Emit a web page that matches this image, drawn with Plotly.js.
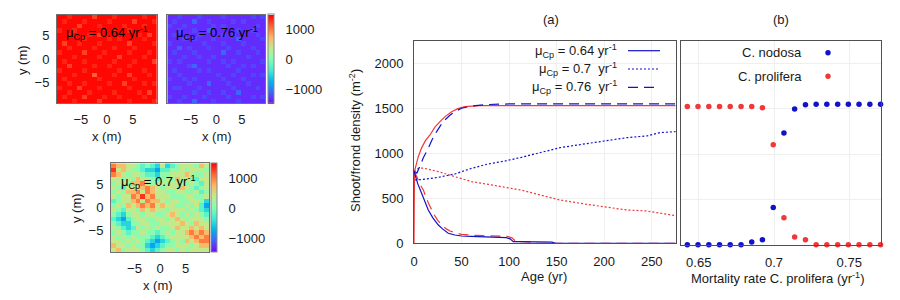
<!DOCTYPE html>
<html><head><meta charset="utf-8">
<script src="https://cdn.plot.ly/plotly-3.0.1.min.js"></script>
<style>html,body{margin:0;padding:0;background:#fff}</style>
</head><body><div id="chart" style="width:900px;height:300px"></div>
<script>
// ---------- Data: time series (panel a) ----------
const tRedSolid = [0, 0.5, 2, 4.5, 8, 12, 16.8, 22, 27.3, 33, 39.6, 46, 53.6, 60, 70, 80, 100, 150, 200, 275];
const vRedSolid = [0, 800, 860, 962, 1060, 1140, 1203, 1290, 1351, 1410, 1462, 1495, 1518, 1525, 1529, 1530, 1530, 1528, 1530, 1529];
const tBlueSolid = [0, 1, 4, 8, 12, 15, 20, 25.6, 30, 36, 43, 50, 60, 70, 80, 90, 97, 101, 104.5, 110, 120, 135, 145, 149, 160, 275];
const vBlueSolid = [800, 760, 660, 555, 450, 370, 280, 203, 160, 111, 92, 81, 76, 72, 68, 65, 62, 50, 18, 18, 17, 15, 12, 0, 0, 0];
const tRedDash = [0, 3, 6, 9.8, 15, 20.3, 25, 29, 34, 37.9, 44, 50, 60, 70, 80, 90, 98, 103, 107, 115, 124, 128, 275];
const vRedDash = [800, 740, 660, 592, 450, 333, 255, 203, 160, 137, 115, 100, 90, 85, 82, 80, 78, 60, 20, 18, 12, 0, 0];
const tBlueDash = [0, 3, 6, 9.8, 15, 19, 23.8, 28, 32.6, 38, 43, 50, 60.6, 75, 100, 150, 200, 275];
const vBlueDash = [800, 780, 850, 950, 1055, 1150, 1240, 1310, 1370, 1425, 1462, 1500, 1525, 1540, 1548, 1548, 1548, 1548];
const tBlueDot = [0, 2, 10, 25.6, 43, 60.6, 78, 95.7, 113, 132.5, 153.5, 181.6, 202.6, 223.6, 244.7, 258.7, 275];
const vBlueDot = [800, 703, 710, 733, 770, 833, 881, 914, 955, 1007, 1062, 1107, 1140, 1173, 1192, 1229, 1240];
const tRedDot = [0, 4.5, 10, 15, 25.6, 43, 60.6, 78, 95.7, 113, 132.5, 153.5, 181.6, 202.6, 223.6, 244.7, 258.7, 275];
const vRedDot = [800, 833, 835, 825, 796, 740, 685, 655, 618, 590, 537, 481, 433, 400, 370, 359, 333, 307];

// ---------- Data: panel b ----------
const mortality = [0.6424, 0.6495, 0.6567, 0.6638, 0.6709, 0.6781, 0.6852, 0.6923, 0.6995, 0.7066, 0.7137, 0.7209, 0.7280, 0.7351, 0.7423, 0.7494, 0.7565, 0.7637, 0.7708];
const nodosa = [0, 0, 0, 0, 0, 0, 30, 55, 411, 1233, 1496, 1544, 1548, 1548, 1548, 1548, 1548, 1548, 1548];
const prolifera = [1525, 1525, 1525, 1525, 1525, 1525, 1525, 1511, 1103, 296, 85, 55, 0, 0, 0, 0, 0, 0, 0];

// ---------- Data: heatmaps (rows top to bottom, digit = level index) ----------
const redLevels = [1460, 1360, 1250, 1120];
const redRows = [
"00100002000100000100","01000100001000020001","00002000100001000100","10010000000100100000",
"00100010200000001020","00000100001010000100","02001000100000200001","00100001000100010000",
"10000200010000100010","00010000100020000100","01000100000100010002","00200001001000100000",
"10000100000010000100","00010003000100200010","01000000100000010000","00100100001002000101",
"10002000100000100000","00100010000100001020","01000200010010000100","00010000200000100001"];
const blueLevels = [-1300, -1200, -1080, -950];
const blueRows = [
"00100010000100000101","01000200100001010000","10010000010100000010","00100100200000100100",
"01000010000101000010","00010100010000200001","10000001000100010000","00201000100010000100",
"01000100000200100010","00010010010000001000","10100000100101000001","00001200000010010100",
"01000010100000100000","00100000001001000101","10010100000100010000","00001000200010001000",
"01100010000001000010","00000100100100200000","10010001000010000101","00100200010000100000"];
const mixLevels = [-1400, -1100, -800, -500, -200, 100, 400, 700, 1000, 1300];
const mixRows = [
"87766545436345666576","96765543324455656665","87656654435566676556","66565766545657665466",
"56657786566566556546","65466678765665765456","56577868766556655645","65668797866655566556",
"45667868776566556653","56576787867665565642","65466576766566656543","54356656655676565654",
"43245665566567656665","54335566556666765766","65434656565567667676","56545565545656678787",
"65656555434566667878","66565654323456576788","76656553234556665677","67566654345665656666"];

const heatTicks = [-5, 0, 5];
const cbTicks = [-1000, 0, 1000];
const ageTicks = [0, 50, 100, 150, 200, 250];
const densTicks = [0, 500, 1000, 1500, 2000];
const mortTicks = [0.65, 0.7, 0.75];
const mortTickText = ['0.65', '0.7', '0.75'];

function decode(rows, levels) {
  return rows.map(r => r.split('').map(d => levels[+d])).reverse();
}

const RAINBOW = [[0,'#8000ff'],[0.125,'#4062fa'],[0.25,'#00b4eb'],[0.375,'#40ebd4'],[0.5,'#80ffb4'],
  [0.625,'#bfeb8e'],[0.75,'#ffb462'],[0.875,'#ff6232'],[1,'#ff0000']];
const ZMIN = -1460, ZMAX = 1490;
const FONT = 'Liberation Sans, Arial, sans-serif';
const TXT = '#1a1a1a';
const BLUE = '#1212c8', RED = '#f03838';

const cbBase = {thickness: 6, thicknessmode: 'pixels', lenmode: 'fraction', xanchor: 'left', yanchor: 'middle',
  xpad: 0, ypad: 0, outlinewidth: 1, outlinecolor: '#888', tickvals: cbTicks,
  ticks: 'outside', ticklen: 9, tickcolor: 'rgba(0,0,0,0)', tickfont: {family: FONT, size: 13, color: TXT}};

const hm = (rows, levels, xa, ya, showscale, cb) => ({
  type: 'heatmap', z: decode(rows, levels), x0: -9.12, dx: 0.96, y0: -9.12, dy: 0.96,
  xaxis: xa, yaxis: ya, colorscale: RAINBOW, zmin: ZMIN, zmax: ZMAX, showscale: showscale,
  colorbar: cb, hoverinfo: 'skip'
});

const line = (x, y, color, dash) => ({type: 'scatter', mode: 'lines', x: x, y: y, xaxis: 'x4', yaxis: 'y4',
  line: {color: color, width: 1.2, dash: dash}, showlegend: false, hoverinfo: 'skip'});

const traces = [
  hm(redRows, redLevels, 'x', 'y', false, {}),
  hm(blueRows, blueLevels, 'x2', 'y2', true, Object.assign({}, cbBase, {x: 268/900, y: 1 - 59/300, len: 88.6/300})),
  hm(mixRows, mixLevels, 'x3', 'y3', true, Object.assign({}, cbBase, {x: 210.7/900, y: 1 - 207.7/300, len: 88.7/300})),
  line(tRedDot, vRedDot, RED, '2px,2px'),
  line(tBlueDot, vBlueDot, BLUE, '2px,2px'),
  line(tRedSolid, vRedSolid, RED, 'solid'),
  line(tRedDash, vRedDash, RED, '10px,6px'),
  line(tBlueDash, vBlueDash, BLUE, '10px,6px'),
  line(tBlueSolid, vBlueSolid, BLUE, 'solid'),
  {type: 'scatter', mode: 'markers', x: mortality, y: nodosa, xaxis: 'x5', yaxis: 'y5', cliponaxis: false,
   marker: {color: BLUE, size: 5.5}, showlegend: false, hoverinfo: 'skip'},
  {type: 'scatter', mode: 'markers', x: mortality, y: prolifera, xaxis: 'x5', yaxis: 'y5', cliponaxis: false,
   marker: {color: RED, size: 5.5}, showlegend: false, hoverinfo: 'skip'}
];

const tf = {family: FONT, size: 13, color: TXT};
const heatAx = (dom, anchor, labels) => ({domain: dom, anchor: anchor, range: [-9.6, 9.6], tickvals: heatTicks,
  showticklabels: labels, ticks: '', ticklabelstandoff: 4, showgrid: false, zeroline: false, showline: true,
  mirror: true, linecolor: '#707070', linewidth: 1, tickfont: tf, automargin: false});
const py = p => 1 - p / 300, px = p => p / 900;

const layout = {
  width: 900, height: 300, margin: {l: 0, r: 0, t: 0, b: 0}, paper_bgcolor: '#fff', plot_bgcolor: '#fff',
  font: {family: FONT, size: 13, color: TXT}, showlegend: false,
  xaxis: heatAx([px(57), px(156.7)], 'y', true),
  yaxis: heatAx([py(103.3), py(14.7)], 'x', true),
  xaxis2: heatAx([px(167.3), px(265.3)], 'y2', true),
  yaxis2: heatAx([py(103.3), py(14.7)], 'x2', false),
  xaxis3: heatAx([px(111), px(209)], 'y3', true),
  yaxis3: heatAx([py(252), py(163.3)], 'x3', true),
  xaxis4: {domain: [px(414), px(676)], anchor: 'y4', range: [0, 275.5], tickvals: ageTicks, ticks: '',
    ticklabelstandoff: 6, showgrid: true, gridcolor: '#efefef', zeroline: false, showline: true, mirror: true,
    linecolor: '#505050', linewidth: 1, tickfont: tf, automargin: false},
  yaxis4: {domain: [py(243.3), py(40.7)], anchor: 'x4', range: [0, 2250], tickvals: densTicks, ticks: '',
    ticklabelstandoff: 7, showgrid: true, gridcolor: '#efefef', zeroline: false, showline: true, mirror: true,
    linecolor: '#505050', linewidth: 1, tickfont: tf, automargin: false},
  xaxis5: {domain: [px(681), px(880.7)], anchor: 'y5', range: [0.6382, 0.7709], tickvals: mortTicks,
    ticktext: mortTickText, ticks: '', ticklabelstandoff: 6, showgrid: true, gridcolor: '#efefef', zeroline: false,
    showline: true, mirror: true, linecolor: '#505050', linewidth: 1, tickfont: tf, automargin: false},
  yaxis5: {domain: [py(244.7), py(40.7)], anchor: 'x5', range: [0, 2250], tickvals: densTicks, showticklabels: false,
    ticks: '', showgrid: true, gridcolor: '#efefef', zeroline: false, showline: true, mirror: true,
    linecolor: '#505050', linewidth: 1, automargin: false},
  annotations: [],
  shapes: []
};

const ann = (text, x, y, xanchor, extra) => Object.assign({text: text, xref: 'paper', yref: 'paper', x: px(x), y: py(y),
  xanchor: xanchor, yanchor: 'middle', showarrow: false, font: {family: FONT, size: 13, color: TXT}}, extra || {});
const A = layout.annotations;
// heatmap labels
A.push(ann('μ<sub>Cp</sub> = 0.64 yr<sup>-1</sup>', 64, 33, 'left', {font: {family: FONT, size: 13, color: '#000'}}));
A.push(ann('μ<sub>Cp</sub> = 0.76 yr<sup>-1</sup>', 174, 33, 'left', {font: {family: FONT, size: 13, color: '#000'}}));
A.push(ann('μ<sub>Cp</sub> = 0.7 yr<sup>-1</sup>', 119, 182.3, 'left', {font: {family: FONT, size: 13, color: '#000'}}));
// heatmap axis titles
A.push(ann('x (m)', 106.7, 136.7, 'center'));
A.push(ann('x (m)', 216.7, 136.7, 'center'));
A.push(ann('x (m)', 158, 285, 'center'));
A.push(ann('y (m)', 23, 60, 'center', {textangle: -90}));
A.push(ann('y (m)', 76.7, 208.3, 'center', {textangle: -90}));
// panel titles
A.push(ann('(a)', 551, 19.3, 'center'));
A.push(ann('(b)', 780.7, 19.3, 'center'));
A.push(ann('Age (yr)', 543.5, 276.7, 'center'));
A.push(ann('Shoot/frond density (m<sup>-2</sup>)', 355, 141, 'center', {textangle: -90}));
A.push(ann('Mortality rate C. prolifera (yr<sup>-1</sup>)', 778, 278, 'center'));
// legend (a)
A.push(ann('μ<sub>Cp</sub> = 0.64 yr<sup>-1</sup>', 619, 50.7, 'right'));
A.push(ann('μ<sub>Cp</sub> = 0.7  yr<sup>-1</sup>', 619, 69, 'right'));
A.push(ann('μ<sub>Cp</sub> = 0.76  yr<sup>-1</sup>', 619, 87.3, 'right'));
const S = layout.shapes;
const legLine = (y, dash) => ({type: 'line', xref: 'paper', yref: 'paper', x0: px(628), x1: px(660), y0: py(y), y1: py(y),
  line: {color: BLUE, width: 1.2, dash: dash}});
S.push(legLine(50.7, 'solid'), legLine(69, '2px,2px'), legLine(87.3, '10px,6px'));
// legend (b)
A.push(ann('C. nodosa', 804, 52.7, 'right'));
A.push(ann('C. prolifera', 804, 76.3, 'right'));
const legDot = (y, color) => ({type: 'circle', xref: 'paper', yref: 'paper', x0: px(825.3), x1: px(830.7),
  y0: py(y + 2.7), y1: py(y - 2.7), fillcolor: color, line: {width: 0}});
S.push(legDot(52.7, BLUE), legDot(76.3, RED));

Plotly.newPlot('chart', traces, layout, {staticPlot: true, displayModeBar: false});
</script></body></html>
